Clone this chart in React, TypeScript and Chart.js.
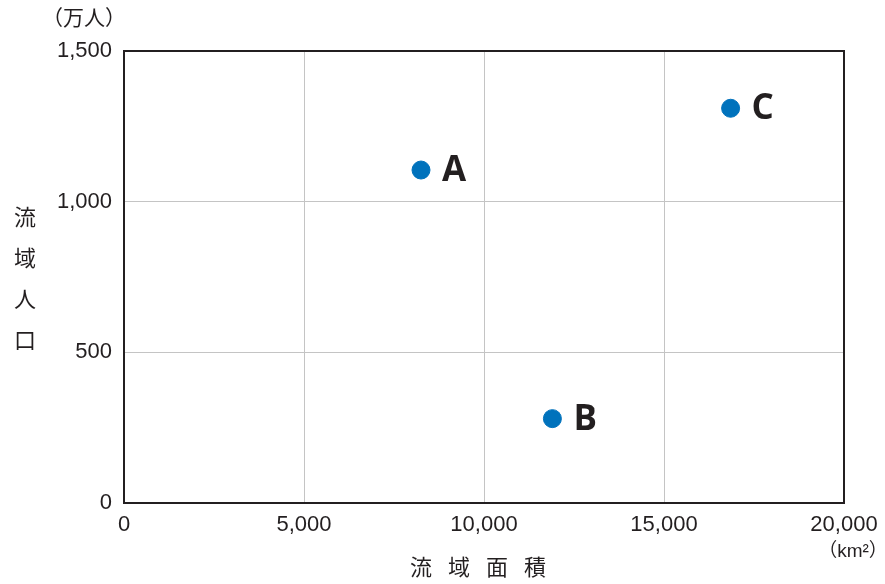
import React, { useEffect, useRef } from "react";
import { Chart, registerables } from "chart.js";

Chart.register(...registerables);

const pointLabels = ["A", "B", "C"];
const areaKm2 = [8250, 11900, 16850];
const populationMan = [1105, 280, 1310];
const xTicks = [0, 5000, 10000, 15000, 20000];
const yTicks = [0, 500, 1000, 1500];
const yTitleChars = ["流", "域", "人", "口"];
const xTitleChars = ["流", "域", "面", "積"];
const yUnit = "（万人）";
const xUnit = "（km²）";

const TEXT = "#231f20";
const fmt = (v: number) => v.toLocaleString("en-US");

const annotate = {
  id: "annotate",
  beforeDatasetsDraw(chart: any) {
    const { ctx, chartArea: a } = chart;
    ctx.save();
    ctx.strokeStyle = TEXT;
    ctx.lineWidth = 2;
    ctx.strokeRect(a.left, a.top, a.right - a.left, a.bottom - a.top);
    ctx.restore();
  },
  afterDatasetsDraw(chart: any) {
    const { ctx, chartArea: a } = chart;
    const xs = chart.scales.x;
    const ys = chart.scales.y;
    ctx.save();
    ctx.fillStyle = TEXT;
    // point labels
    ctx.font = "bold 35px 'Open Sans', sans-serif";
    ctx.textAlign = "left";
    ctx.textBaseline = "middle";
    pointLabels.forEach((lab, i) => {
      const px = xs.getPixelForValue(areaKm2[i]);
      const py = ys.getPixelForValue(populationMan[i]);
      ctx.fillText(lab, px + 21, py + 1);
    });
    // y unit
    ctx.font = "21px 'Noto Sans CJK JP', sans-serif";
    ctx.textAlign = "center";
    ctx.fillText(yUnit, 84, 17);
    // y title
    ctx.font = "22px 'Noto Sans CJK JP', sans-serif";
    const midY = (a.top + a.bottom) / 2;
    yTitleChars.forEach((c, i) => {
      ctx.fillText(c, 25, midY + 1 + (i - 1.5) * 41);
    });
    // x title
    const midX = (a.left + a.right) / 2;
    xTitleChars.forEach((c, i) => {
      ctx.fillText(c, midX - 6 + (i - 1.5) * 38, 567);
    });
    // x unit
    ctx.font = "19px 'Liberation Sans', 'Noto Sans CJK JP', sans-serif";
    ctx.textAlign = "center";
    ctx.fillText(xUnit, 853, 552);
    ctx.restore();
  },
};

export default function App() {
  const ref = useRef<HTMLCanvasElement>(null);
  useEffect(() => {
    document.body.style.margin = "0";
    const chart = new Chart(ref.current!, {
      type: "scatter",
      data: {
        datasets: [
          {
            data: areaKm2.map((x, i) => ({ x, y: populationMan[i] })),
            backgroundColor: "#0072bc",
            borderColor: "#0072bc",
            pointRadius: 9,
            pointHoverRadius: 9,
            clip: false,
          } as any,
        ],
      },
      options: {
        animation: false,
        responsive: false,
        layout: { padding: { left: 0, top: 51, right: 41, bottom: 0 } },
        plugins: { legend: { display: false }, tooltip: { enabled: false } },
        scales: {
          x: {
            type: "linear",
            min: 0,
            max: 20000,
            afterBuildTicks: (s: any) => {
              s.ticks = xTicks.map((v) => ({ value: v }));
            },
            afterFit: (s: any) => {
              s.height = 81;
              s.paddingLeft = 0;
              s.paddingRight = 0;
            },
            grid: { color: "#c4c4c4", lineWidth: 1, drawTicks: false },
            border: { display: false },
            ticks: {
              color: TEXT,
              font: { family: "'Liberation Sans', Arial, sans-serif", size: 22 },
              padding: 9,
              maxRotation: 0,
              callback: (v: any) => fmt(Number(v)),
            },
          },
          y: {
            type: "linear",
            min: 0,
            max: 1500,
            afterBuildTicks: (s: any) => {
              s.ticks = yTicks.map((v) => ({ value: v }));
            },
            afterFit: (s: any) => {
              s.width = 124;
              s.paddingTop = 0;
              s.paddingBottom = 0;
            },
            grid: { color: "#c4c4c4", lineWidth: 1, drawTicks: false },
            border: { display: false },
            ticks: {
              color: TEXT,
              font: { family: "'Liberation Sans', Arial, sans-serif", size: 22 },
              padding: 12,
              callback: (v: any) => fmt(Number(v)),
            },
          },
        },
      },
      plugins: [annotate],
    });
    return () => chart.destroy();
  }, []);
  return (
    <div style={{ position: "relative", width: 885, height: 584 }}>
      <canvas ref={ref} width={885} height={584} />
    </div>
  );
}
